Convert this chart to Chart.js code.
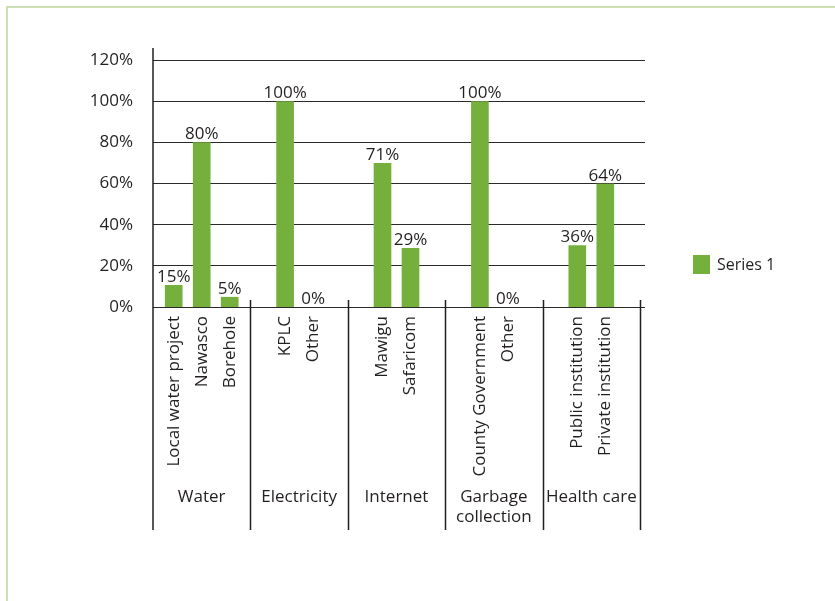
<!DOCTYPE html>
<html>
<head>
<meta charset="utf-8">
<title>Service providers</title>
<script src="https://cdn.jsdelivr.net/npm/chart.js@4.4.1/dist/chart.umd.min.js"></script>
<style>
  html, body { margin: 0; padding: 0; background: #fff; }
  .frame {
    position: absolute; left: 6px; top: 6px; width: 860px; height: 620px;
    border-left: 2px solid #c9e1b5; border-top: 2px solid #c9e1b5;
  }
  #chart { position: absolute; left: 0; top: 0; }
</style>
</head>
<body>
<div class="frame"></div>
<canvas id="chart" width="835" height="601"></canvas>
<script>
// Daten
const groups = ['Water', 'Electricity', 'Internet', ['Garbage', 'collection'], 'Health care'];
const items = ['Local water project', 'Nawasco', 'Borehole', 'KPLC', 'Other', 'Mawigu', 'Safaricom',
               'County Government', 'Other', 'Public institution', 'Private institution'];
const itemGroup = [0, 0, 0, 1, 1, 2, 2, 3, 3, 4, 4];
// bar heights as drawn
const values = [10.7, 80, 5, 100, 0, 70, 28.7, 100, 0, 30, 60];
// labels printed above the bars
const valueLabels = ['15%', '80%', '5%', '100%', '0%', '71%', '29%', '100%', '0%', '36%', '64%'];
const yTicks = [0, 20, 40, 60, 80, 100, 120];
const seriesName = 'Series 1';

const green = '#76b03c';
const ink = '#231f20';
const font = '17px "Open Sans"';
const legendFont = '16px "Open Sans"';

Chart.defaults.font.family = '"Open Sans", sans-serif';
Chart.defaults.font.size = 17;
Chart.defaults.color = ink;

// one dataset per place inside a group, missing places stay null
function buildDatasets() {
    const slots = [];
    items.forEach((name, i) => {
        const g = itemGroup[i];
        const slot = itemGroup.slice(0, i).filter(x => x === g).length;
        if (!slots[slot]) slots[slot] = { data: groups.map(() => null), idx: groups.map(() => null) };
        slots[slot].data[g] = values[i];
        slots[slot].idx[g] = i;
    });
    return slots.map(s => ({
        label: seriesName,
        data: s.data,
        itemIndex: s.idx,
        backgroundColor: green,
        borderColor: 'rgba(0,0,0,0)',
        borderWidth: { left: 5.5, right: 5.5, top: 0, bottom: 0 },
        borderSkipped: false,
        barThickness: 28,
        yAxisID: 'y'
    }));
}

// Beschriftungen, Gruppenachse und Legende
const groupAxisPlugin = {
    id: 'groupAxis',
    afterDatasetsDraw(chart) {
        const ctx = chart.ctx;
        ctx.save();
        ctx.font = font;
        ctx.fillStyle = ink;
        ctx.textAlign = 'center';
        ctx.textBaseline = 'alphabetic';
        chart.data.datasets.forEach((ds, di) => {
            chart.getDatasetMeta(di).data.forEach((bar, g) => {
                const i = ds.itemIndex[g];
                if (i === null) return;
                ctx.fillText(valueLabels[i], bar.x, bar.y - 3);
            });
        });
        ctx.restore();
    },
    afterDraw(chart) {
        const ctx = chart.ctx;
        const xs = chart.scales.x;
        const bottom = chart.chartArea.bottom;
        const step = (xs.right - xs.left) / groups.length;

        ctx.save();
        ctx.strokeStyle = ink;
        ctx.lineWidth = 1.5;
        ctx.beginPath();
        ctx.moveTo(xs.left, chart.chartArea.top - 12);
        ctx.lineTo(xs.left, bottom + 223);
        for (let k = 1; k <= groups.length; k++) {
            const x = Math.round(xs.left + k * step) + 0.5;
            ctx.moveTo(x, bottom - 7);
            ctx.lineTo(x, bottom + 223);
        }
        ctx.stroke();

        ctx.font = font;
        ctx.fillStyle = ink;

        // rotated item names
        chart.data.datasets.forEach((ds, di) => {
            chart.getDatasetMeta(di).data.forEach((bar, g) => {
                const i = ds.itemIndex[g];
                if (i === null) return;
                ctx.save();
                ctx.translate(bar.x, bottom + 9);
                ctx.rotate(-Math.PI / 2);
                ctx.textAlign = 'right';
                ctx.textBaseline = 'middle';
                ctx.fillText(items[i], 0, 0);
                ctx.restore();
            });
        });

        // group names
        ctx.textAlign = 'center';
        ctx.textBaseline = 'alphabetic';
        groups.forEach((g, gi) => {
            const lines = Array.isArray(g) ? g : [g];
            const cx = xs.getPixelForValue(gi);
            lines.forEach((line, li) => ctx.fillText(line, cx, bottom + 195 + li * 20));
        });

        // legend
        ctx.fillStyle = green;
        ctx.fillRect(693, 255, 17, 19);
        ctx.fillStyle = ink;
        ctx.font = legendFont;
        ctx.textAlign = 'left';
        ctx.fillText(seriesName, 717, 269.5);
        ctx.restore();
    }
};

new Chart(document.getElementById('chart'), {
    type: 'bar',
    data: {
        labels: groups,
        datasets: buildDatasets()
    },
    options: {
        responsive: false,
        animation: false,
        skipNull: true,
        layout: { padding: { left: 0, top: 60, right: 190, bottom: 294 } },
        plugins: {
            legend: { display: false },
            tooltip: { enabled: false }
        },
        scales: {
            x: {
                type: 'category',
                display: false,
                offset: true
            },
            y: {
                position: 'left',
                min: yTicks[0],
                max: yTicks[yTicks.length - 1],
                afterFit: s => { s.width = 153; },
                afterBuildTicks: s => { s.ticks = yTicks.map(v => ({ value: v })); },
                ticks: {
                    padding: 20,
                    color: ink,
                    font: { size: 17 },
                    callback: v => v + '%'
                },
                grid: { display: false, drawTicks: false },
                border: { display: false }
            },
            y2: {
                position: 'right',
                min: yTicks[0],
                max: yTicks[yTicks.length - 1],
                afterBuildTicks: s => { s.ticks = yTicks.map(v => ({ value: v })); },
                ticks: { display: false },
                grid: { color: '#2a2a2a', lineWidth: 1, drawTicks: true, tickLength: 5 },
                border: { display: false }
            }
        }
    },
    plugins: [groupAxisPlugin]
});
</script>
</body>
</html>
